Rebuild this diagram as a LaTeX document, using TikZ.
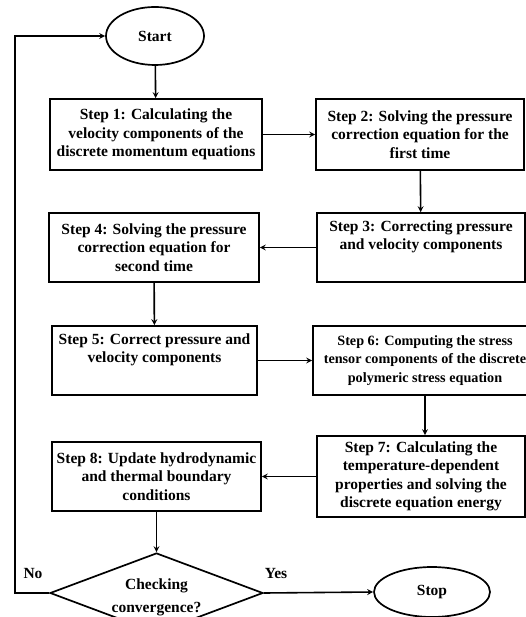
\documentclass[tikz,border=0pt]{standalone}
\usepackage{fontspec}
\setmainfont{Liberation Serif}
\usetikzlibrary{shapes.geometric}

\tikzset{
	stepbox/.style={draw, rectangle, line width=1.7pt, align=center, inner sep=0pt, font=\bfseries\fontsize{15.5}{18.5}\selectfont},
	term/.style={draw, ellipse, line width=1.7pt, inner sep=0pt, font=\bfseries\fontsize{15.5}{18.5}\selectfont},
	flow/.style={->, >=stealth, line width=1.6pt}
}

\begin{document}
\begin{tikzpicture}[x=1pt, y=-1pt]
				\clip (0,0) rectangle (526,617);
				\node[term, minimum width=98pt, minimum height=58pt] (start)at(155, 36) {Start};
				\node[stepbox, minimum width=212pt, minimum height=71pt] (s1)at(156, 134.5) {Step 1: Calculating the\\velocity components of the\\discrete momentum equations};
				\node[stepbox, minimum width=208pt, minimum height=71pt] (s2)at(420, 134.5) {Step 2: Solving the pressure\\correction equation for the\\first time};
				\node[stepbox, minimum width=208pt, minimum height=69pt] (s3)at(421, 247.5) {Step 3: Correcting pressure\\and velocity components\\[6pt]};
				\node[stepbox, minimum width=210pt, minimum height=69pt] (s4)at(154, 247.5) {Step 4: Solving the pressure\\correction equation for\\second time};
				\node[stepbox, minimum width=205pt, minimum height=69pt] (s5)at(154.5, 360.5) {Step 5: Correct pressure and\\velocity components\\[6pt]};
				\node[stepbox, minimum width=224pt, minimum height=69pt, font=\bfseries\fontsize{14.2}{18.5}\selectfont] (s6)at(425, 360.5) {Step 6: Computing the stress\\tensor components of the discrete\\polymeric stress equation};
				\node[stepbox, minimum width=208pt, minimum height=81pt] (s7)at(421, 476.5) {Step 7: Calculating the\\temperature-dependent\\properties and solving the\\discrete equation energy};
				\node[stepbox, minimum width=209pt, minimum height=69pt] (s8)at(156.5, 476.5) {Step 8: Update hydrodynamic\\and thermal boundary\\conditions};
				\node[draw, diamond, line width=1.7pt, minimum width=213pt, minimum height=80pt, inner sep=0pt] (chk)at(156.5, 593) {};
				\node[align=center, font=\bfseries\fontsize{15.5}{23}\selectfont] (chktxt)at(156.5, 597) {Checking\\convergence?};
				\node[term, minimum width=116pt, minimum height=50pt] (stop)at(432, 592) {Stop};
				\coordinate (back)at(15, 593);
				\node[font=\bfseries\fontsize{15.5}{18}\selectfont] (no)at(33, 573) {No};
				\node[font=\bfseries\fontsize{15.5}{18}\selectfont] (yes)at(276, 573) {Yes};
				\draw[flow] (start) -- (s1);
				\draw[flow] (s1) -- (s2);
				\draw[flow] (s2) -- (s3);
				\draw[flow] (s3) -- (s4);
				\draw[flow] (s4) -- (s5);
				\draw[flow] (s5) -- (s6);
				\draw[flow] (s6.south) -- (s6.south |- s7.north);
				\draw[flow] (s7) -- (s8);
				\draw[flow] (s8) -- (chk);
				\draw[flow] (chk.east) -- (stop.west);
				\draw[flow] (chk.west) -- (back) |- (start.west);
			\end{tikzpicture}
\end{document}
